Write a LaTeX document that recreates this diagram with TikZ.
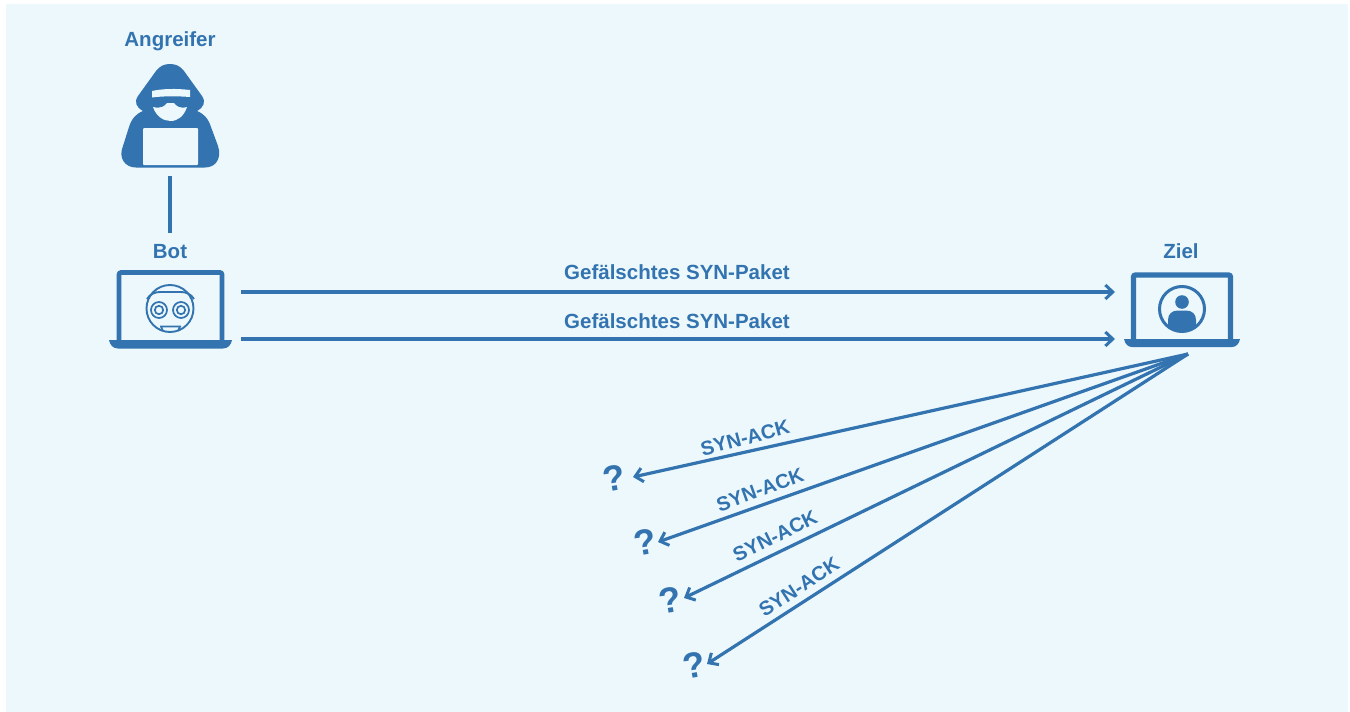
\documentclass[tikz,border=0pt]{standalone}
\usepackage{fontspec}
\setmainfont{Liberation Sans}
\usetikzlibrary{arrows.meta}
\definecolor{bl}{HTML}{3273B0}
\definecolor{bg}{HTML}{ECF8FB}
\tikzset{
  x=1pt,y=-1pt,
  lab/.style={font=\fontsize{20.5}{24}\selectfont\bfseries,text=bl,inner sep=0pt,anchor=base},
  syn/.style={font=\fontsize{20}{24}\selectfont\bfseries,text=bl,inner sep=0pt},
  qm/.style={font=\fontsize{36}{40}\selectfont\bfseries,text=bl,inner sep=0pt},
  conn/.style={draw=bl,line width=3.2pt},
  arrow/.style={conn,-{Straight Barb[length=7.5pt,width=14pt,line width=3pt]}},
  iconline/.style={draw=bl,line width=1.9pt},
}
\begin{document}
\begin{tikzpicture}
\useasboundingbox (0,0) rectangle (1350,712);
\fill[white] (0,0) rectangle (1350,712);
\fill[bg] (6,4) rectangle (1348,712);
% labels
\node[lab] (angreifer) at (170,46) {Angreifer};
\node[lab] (bot) at (170,258) {Bot};
\node[lab] (ziel) at (1181,258) {Ziel};
% hacker
\fill[bl] (170,64) .. controls (164,64) and (160,66) .. (156,71)
 -- (138,96) .. controls (134,102) and (136,107) .. (143,111)
 .. controls (136,114) and (132,118) .. (129,127)
 -- (123,146) .. controls (118,158) and (125,167.5) .. (136,167.5)
 -- (205,167.5) .. controls (216,167.5) and (222,158) .. (218,146)
 -- (211,127) .. controls (208,118) and (204,114) .. (197,111)
 .. controls (204,107) and (206,102) .. (202,96)
 -- (184,71) .. controls (180,66) and (176,64) .. (170,64) -- cycle;
\fill[bg] (152,91) .. controls (163,88.5) and (177,88.5) .. (190,90) -- (190,97) .. controls (177,96) and (163,96) .. (152,97.5) -- cycle;
\fill[bg] (153,107) .. controls (161,109) and (165,106) .. (167,103) -- (174,103) .. controls (176,106) and (180,109) .. (187,107)
 .. controls (184,116) and (178,121) .. (170.5,121) .. controls (163,121) and (156,116) .. (153,107) -- cycle;
\fill[bg,rounded corners=1pt] (143,128) rectangle (198,165);
% connector
\coordinate (h1) at (170,176);
\coordinate (h2) at (170,233);
\draw[conn] (h1) -- (h2);
% bot laptop
\draw[bl,line width=4.6pt,rounded corners=2pt] (119,343) -- (119,272.5) -- (222,272.5) -- (222,343);
\fill[bl] (109,340) -- (232,340) .. controls (231,345) and (228,348.5) .. (223,348.5) -- (118,348.5) .. controls (113,348.5) and (110,345) .. (109,340) -- cycle;
\draw[iconline] (170,308.5) circle (23.5);
\draw[iconline] (147,299) .. controls (150,294) and (155,292) .. (160,292) -- (181,292) .. controls (186,292) and (191,294) .. (194,299);
\foreach \cx in {159,181}{
  \draw[iconline,line width=1.7pt] (\cx,310) circle (8);
  \draw[iconline,line width=1.7pt] (\cx,310) circle (4.2);
}
\draw[iconline,line width=1.7pt] (160,326.5) -- (181,326.5) (161,326.5) -- (163,331) (180,326.5) -- (178,331);
% target laptop
\draw[bl,line width=5.3pt,rounded corners=2pt] (1133.5,343) -- (1133.5,275) -- (1230.5,275) -- (1230.5,343);
\fill[bl] (1124,339) -- (1240,339) .. controls (1239,344) and (1236,347) .. (1232,347) -- (1132,347) .. controls (1128,347) and (1125,344) .. (1124,339) -- cycle;
\draw[bl,line width=3pt] (1182,309) circle (22.5);
\fill[bl] (1182,302) circle (6.8);
\fill[bl] (1168,327) -- (1168,320) .. controls (1168,314) and (1172,310.5) .. (1178,310.5) -- (1186,310.5) .. controls (1192,310.5) and (1196,314) .. (1196,320) -- (1196,327) .. controls (1188,333) and (1176,333) .. (1168,327) -- cycle;
% horizontal arrows
\coordinate (b1) at (241,292);
\coordinate (t1) at (1115,292);
\coordinate (b2) at (241,339);
\coordinate (t2) at (1115,339);
\draw[arrow] (b1) -- (t1);
\draw[arrow] (b2) -- (t2);
\node[lab] (p1) at (677,279) {Gefälschtes SYN-Paket};
\node[lab] (p2) at (677,328) {Gefälschtes SYN-Paket};
% syn-ack
\coordinate (src) at (1188,354);
\node[qm,rotate=10] (q1) at (614,478) {?};
\node[qm,rotate=10] (q2) at (645,542) {?};
\node[qm,rotate=10] (q3) at (670,600) {?};
\node[qm,rotate=10] (q4) at (694,665) {?};
\coordinate (e1) at (633,477);
\coordinate (e2) at (658,542);
\coordinate (e3) at (684,598);
\coordinate (e4) at (707,664);
\foreach \e in {e1,e2,e3,e4} \draw[arrow] (src) -- (\e);
\node[syn,rotate=15] (s1) at (745,438) {SYN-ACK};
\node[syn,rotate=20] (s2) at (760,490) {SYN-ACK};
\node[syn,rotate=26] (s3) at (775,536) {SYN-ACK};
\node[syn,rotate=33] (s4) at (799,587) {SYN-ACK};
\end{tikzpicture}
\end{document}
